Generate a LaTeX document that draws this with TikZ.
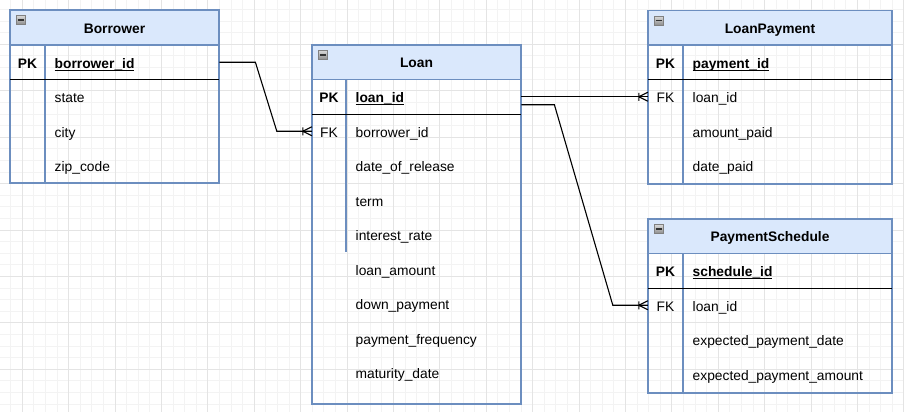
\documentclass[tikz,border=0pt]{standalone}
\usepackage{fontspec}
\setmainfont{Liberation Sans}
\usepackage{tikz}

\definecolor{hdrfill}{HTML}{DAE8FC}
\definecolor{hdrline}{HTML}{6C8EBF}
\definecolor{gridminor}{HTML}{F3F3F3}
\definecolor{gridmajor}{HTML}{E4E4E4}

\newlength{\pkwd}
\newcommand{\pkname}[1]{\settowidth{\pkwd}{#1}\rlap{\rule[-2.9pt]{\pkwd}{1.1pt}}#1}
% crow's foot (one or many) on the west side of a key cell
\newcommand{\manyend}[1]{%
  \draw[relline] ([xshift=-9pt]#1.west) -- ([yshift=4.5pt]#1.west)
    ([xshift=-9pt]#1.west) -- ([yshift=-4.5pt]#1.west)
    ([xshift=-9pt,yshift=4pt]#1.west) -- ([xshift=-9pt,yshift=-4pt]#1.west);}
% little collapse box in a table header
\newcommand{\collapseicon}[2]{%
  \draw[draw=black!50, top color=black!15, bottom color=black!45, line width=0.6pt] (#1+6,#2+5.5) rectangle (#1+15,#2+14.5);
  \draw[black!80, line width=1.3pt] (#1+7.5,#2+10) -- (#1+13.5,#2+10);}

\tikzset{
  header/.style={draw=hdrline, fill=hdrfill, line width=1.2pt, inner sep=0pt, font=\fontsize{13.8}{16}\selectfont\bfseries, text height=11.2pt, text depth=0pt},
  frame/.style={draw=hdrline, line width=1.2pt},
  pkline/.style={draw=black, line width=1pt},
  keycell/.style={inner sep=0pt, minimum height=34.5pt, text height=11.6pt, text depth=0pt},
  namecell/.style={anchor=west, text width=#1, align=left, inner xsep=9.5pt, inner ysep=0pt, minimum height=34.5pt, text height=11.6pt, text depth=0pt},
  relline/.style={draw=black, line width=1.1pt},
}

\begin{document}
\begin{tikzpicture}[x=1pt, y=-1pt, font=\fontsize{13.8}{16}\selectfont]
\fill[white] (0,0) rectangle (904,412);
\useasboundingbox (0,0) rectangle (904,412);
% grid
\foreach \i in {-2,...,78} \draw[gridminor, line width=1pt] (22.3+11.6*\i,0) -- (22.3+11.6*\i,412);
\foreach \i in {-20,...,16} \draw[gridminor, line width=1pt] (0,230+11.6*\i) -- (904,230+11.6*\i);
\foreach \i in {-1,...,20} \draw[gridmajor, line width=1pt] (22.3+46.4*\i,0) -- (22.3+46.4*\i,412);
\foreach \i in {-5,...,4} \draw[gridmajor, line width=1pt] (0,230+46.4*\i) -- (904,230+46.4*\i);

% Borrower
\node[header, minimum width=209pt, minimum height=35pt] (bor) at (114.5,27.5) {Borrower};
\collapseicon{10}{10}
\draw[frame] (10,45) -- (10,183) -- (219,183) -- (219,45);
\draw[frame] (45,45) -- (45,183);
\draw[pkline] (10,79.5) -- (219,79.5);
\node[keycell, minimum width=35pt] (bor-pk-key) at (27.5,62.25) {\textbf{PK}};
\node[namecell=155pt] (bor-pk) at (45,62.25) {\textbf{\pkname{borrower\_id}}};
\node[namecell=155pt] (bor-state) at (45,96.75) {state};
\node[namecell=155pt] (bor-city) at (45,131.25) {city};
\node[namecell=155pt] (bor-zip) at (45,165.75) {zip\_code};

% Loan
\node[header, minimum width=209pt, minimum height=34.5pt] (loan) at (416.5,62.25) {Loan};
\collapseicon{312}{45}
\draw[frame] (312,79.5) -- (312,404) -- (521,404) -- (521,79.5);
\draw[frame] (346,79.5) -- (346,252);
\draw[pkline] (312,114) -- (521,114);
\node[keycell, minimum width=34pt] (loan-pk-key) at (329,96.75) {\textbf{PK}};
\node[namecell=156pt] (loan-pk) at (346,96.75) {\textbf{\pkname{loan\_id}}};
\node[keycell, minimum width=34pt] (loan-fk-key) at (329,131.25) {FK};
\node[namecell=156pt] (loan-fk) at (346,131.25) {borrower\_id};
\node[namecell=156pt] (loan-release) at (346,165.75) {date\_of\_release};
\node[namecell=156pt] (loan-term) at (346,200.25) {term};
\node[namecell=156pt] (loan-rate) at (346,234.75) {interest\_rate};
\node[namecell=156pt] (loan-amount) at (346,269.25) {loan\_amount};
\node[namecell=156pt] (loan-down) at (346,303.75) {down\_payment};
\node[namecell=156pt] (loan-freq) at (346,338.25) {payment\_frequency};
\node[namecell=156pt] (loan-maturity) at (346,372.75) {maturity\_date};

% LoanPayment
\node[header, minimum width=244pt, minimum height=34.3pt] (lp) at (770,27.85) {LoanPayment};
\collapseicon{648}{10.7}
\draw[frame] (648,45) -- (648,184) -- (892,184) -- (892,45);
\draw[frame] (683,45) -- (683,184);
\draw[pkline] (648,79.5) -- (892,79.5);
\node[keycell, minimum width=35pt] (lp-pk-key) at (665.5,62.25) {\textbf{PK}};
\node[namecell=190pt] (lp-pk) at (683,62.25) {\textbf{\pkname{payment\_id}}};
\node[keycell, minimum width=35pt] (lp-fk-key) at (665.5,96.75) {FK};
\node[namecell=190pt] (lp-fk) at (683,96.75) {loan\_id};
\node[namecell=190pt] (lp-amount) at (683,131.25) {amount\_paid};
\node[namecell=190pt] (lp-date) at (683,165.75) {date\_paid};

% PaymentSchedule
\node[header, minimum width=244pt, minimum height=34.5pt] (ps) at (770,236.25) {PaymentSchedule};
\collapseicon{648}{219}
\draw[frame] (648,253.5) -- (648,393) -- (892,393) -- (892,253.5);
\draw[frame] (683,253.5) -- (683,393);
\draw[pkline] (648,288) -- (892,288);
\node[keycell, minimum width=35pt] (ps-pk-key) at (665.5,270.75) {\textbf{PK}};
\node[namecell=190pt] (ps-pk) at (683,270.75) {\textbf{\pkname{schedule\_id}}};
\node[keycell, minimum width=35pt] (ps-fk-key) at (665.5,305.25) {FK};
\node[namecell=190pt] (ps-fk) at (683,305.25) {loan\_id};
\node[namecell=190pt] (ps-date) at (683,339.75) {expected\_payment\_date};
\node[namecell=190pt] (ps-amount) at (683,374.25) {expected\_payment\_amount};

% relations
\draw[relline] (bor-pk.east) -- ++(36,0) -- ([xshift=-35pt]loan-fk-key.west) -- (loan-fk-key.west);
\manyend{loan-fk-key}
\draw[relline] (loan-pk.east) -- (lp-fk-key.west);
\manyend{lp-fk-key}
\draw[relline] ([yshift=-8pt]loan-pk.east) -- ++(33,0) -- ([xshift=-35pt]ps-fk-key.west) -- (ps-fk-key.west);
\manyend{ps-fk-key}
\end{tikzpicture}
\end{document}
